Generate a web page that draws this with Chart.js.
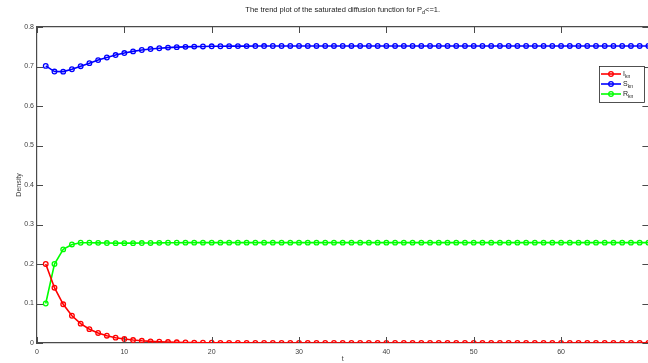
<!DOCTYPE html>
<html>
<head>
<meta charset="utf-8">
<script src="https://cdn.jsdelivr.net/npm/chart.js@4/dist/chart.umd.min.js"></script>
<style>
  html, body { margin: 0; padding: 0; background: #ffffff; overflow: hidden; }
  #wrap { width: 648px; height: 363px; overflow: hidden; position: relative; }
  canvas { display: block; }
</style>
</head>
<body>
<div id="wrap"><canvas id="c" width="652" height="363"></canvas></div>
<script>
// time steps t = 1 .. 70
const tSteps = [
  1, 2, 3, 4, 5, 6, 7, 8, 9, 10, 11, 12, 13, 14, 15, 16, 17, 18, 19, 20,
  21, 22, 23, 24, 25, 26, 27, 28, 29, 30, 31, 32, 33, 34, 35, 36, 37, 38, 39, 40,
  41, 42, 43, 44, 45, 46, 47, 48, 49, 50, 51, 52, 53, 54, 55, 56, 57, 58, 59, 60,
  61, 62, 63, 64, 65, 66, 67, 68, 69, 70
];

// I_kn density
const iKn = [
  0.2000, 0.1400, 0.0980, 0.0690, 0.0490, 0.0350, 0.0255, 0.0185, 0.0135, 0.0100,
  0.0075, 0.0056, 0.0042, 0.0032, 0.0024, 0.0018, 0.0014, 0.0010, 0.0008, 0.0006,
  0.0004, 0.0003, 0.0002, 0.0002, 0.0001, 0.0001, 0.0001, 0.0001, 0.0000, 0.0000,
  0.0000, 0.0000, 0.0000, 0.0000, 0.0000, 0.0000, 0.0000, 0.0000, 0.0000, 0.0000,
  0.0000, 0.0000, 0.0000, 0.0000, 0.0000, 0.0000, 0.0000, 0.0000, 0.0000, 0.0000,
  0.0000, 0.0000, 0.0000, 0.0000, 0.0000, 0.0000, 0.0000, 0.0000, 0.0000, 0.0000,
  0.0000, 0.0000, 0.0000, 0.0000, 0.0000, 0.0000, 0.0000, 0.0000, 0.0000, 0.0000
];

// S_kn density
const sKn = [
  0.7015, 0.6872, 0.6870, 0.6930, 0.7008, 0.7085, 0.7162, 0.7228, 0.7290, 0.7340,
  0.7382, 0.7418, 0.7442, 0.7462, 0.7478, 0.7490, 0.7498, 0.7504, 0.7508, 0.7511,
  0.7513, 0.7515, 0.7516, 0.7517, 0.7518, 0.7518, 0.7519, 0.7519, 0.7520, 0.7520,
  0.7520, 0.7520, 0.7520, 0.7520, 0.7520, 0.7520, 0.7520, 0.7520, 0.7520, 0.7520,
  0.7520, 0.7520, 0.7520, 0.7520, 0.7520, 0.7520, 0.7520, 0.7520, 0.7520, 0.7520,
  0.7520, 0.7520, 0.7520, 0.7520, 0.7520, 0.7520, 0.7520, 0.7520, 0.7520, 0.7520,
  0.7520, 0.7520, 0.7520, 0.7520, 0.7520, 0.7520, 0.7520, 0.7520, 0.7520, 0.7520
];

// R_kn density
const rKn = [
  0.1000, 0.2000, 0.2370, 0.2495, 0.2538, 0.2538, 0.2535, 0.2530, 0.2528, 0.2528,
  0.2528, 0.2530, 0.2533, 0.2536, 0.2538, 0.2539, 0.2540, 0.2540, 0.2540, 0.2540,
  0.2540, 0.2540, 0.2540, 0.2540, 0.2540, 0.2540, 0.2540, 0.2540, 0.2540, 0.2540,
  0.2540, 0.2540, 0.2540, 0.2540, 0.2540, 0.2540, 0.2540, 0.2540, 0.2540, 0.2540,
  0.2540, 0.2540, 0.2540, 0.2540, 0.2540, 0.2540, 0.2540, 0.2540, 0.2540, 0.2540,
  0.2540, 0.2540, 0.2540, 0.2540, 0.2540, 0.2540, 0.2540, 0.2540, 0.2540, 0.2540,
  0.2540, 0.2540, 0.2540, 0.2540, 0.2540, 0.2540, 0.2540, 0.2540, 0.2540, 0.2540
];

// tick positions
const xTickValues = [0, 10, 20, 30, 40, 50, 60];
const yTickValues = [0, 0.1, 0.2, 0.3, 0.4, 0.5, 0.6, 0.7, 0.8];

// legend entries: base text + subscript
const seriesNames = [['I', 'kn'], ['S', 'kn'], ['R', 'kn']];
const seriesColors = ['#ff0000', '#0000ff', '#00ff00'];

const FONT = '"Liberation Sans", Arial, Helvetica, sans-serif';
const AXIS_COLOR = '#4a4a4a';

function toXY(values) {
  return tSteps.map((t, i) => ({ x: t, y: values[i] }));
}

// draws text with an optional subscript, starting at x
function drawSubText(ctx, x, y, base, sub, size, align) {
  ctx.font = size + 'px ' + FONT;
  const wBase = ctx.measureText(base).width;
  ctx.font = (size * 0.72) + 'px ' + FONT;
  const wSub = sub ? ctx.measureText(sub).width : 0;
  let x0 = x;
  if (align === 'center') x0 = x - (wBase + wSub) / 2;
  ctx.textAlign = 'left';
  ctx.textBaseline = 'middle';
  ctx.font = size + 'px ' + FONT;
  ctx.fillText(base, x0, y);
  if (sub) {
    ctx.font = (size * 0.72) + 'px ' + FONT;
    ctx.fillText(sub, x0 + wBase, y + size * 0.35);
  }
}

// inward tick marks, title, axis titles and the boxed legend
const decorations = {
  id: 'decorations',
  afterDraw(chart) {
    const ctx = chart.ctx;
    const a = chart.chartArea;
    const xs = chart.scales.x;
    const ys = chart.scales.y;
    const tl = 6;
    ctx.save();
    ctx.strokeStyle = AXIS_COLOR;
    ctx.lineWidth = 1;
    ctx.beginPath();
    xTickValues.forEach(v => {
      const px = Math.round(xs.getPixelForValue(v)) + 0.5;
      ctx.moveTo(px, a.bottom); ctx.lineTo(px, a.bottom - tl);
      ctx.moveTo(px, a.top); ctx.lineTo(px, a.top + tl);
    });
    yTickValues.forEach(v => {
      const py = Math.round(ys.getPixelForValue(v)) + 0.5;
      ctx.moveTo(a.left, py); ctx.lineTo(a.left + tl, py);
      ctx.moveTo(a.right, py); ctx.lineTo(a.right - tl, py);
    });
    ctx.stroke();

    // title
    ctx.fillStyle = '#1a1a1a';
    ctx.font = '7.5px ' + FONT;
    const t1 = 'The trend plot of the saturated diffusion function for P';
    const t2 = '<=1.';
    const w1 = ctx.measureText(t1).width;
    const w3 = ctx.measureText(t2).width;
    ctx.font = (7.5 * 0.72) + 'px ' + FONT;
    const w2 = ctx.measureText('d').width;
    const cx = (a.left + a.right) / 2;
    let x0 = cx - (w1 + w2 + w3) / 2;
    ctx.textAlign = 'left';
    ctx.textBaseline = 'middle';
    ctx.font = '7.5px ' + FONT;
    ctx.fillText(t1, x0, 10);
    ctx.font = (7.5 * 0.72) + 'px ' + FONT;
    ctx.fillText('d', x0 + w1, 13);
    ctx.font = '7.5px ' + FONT;
    ctx.fillText(t2, x0 + w1 + w2, 10);

    // axis titles
    ctx.fillStyle = '#404040';
    ctx.font = '7px ' + FONT;
    ctx.textAlign = 'center';
    ctx.fillText('t', cx, 359);
    ctx.save();
    ctx.translate(19, (a.top + a.bottom) / 2);
    ctx.rotate(-Math.PI / 2);
    ctx.fillText('Density', 0, 0);
    ctx.restore();

    // legend box
    const bx = 599.5, by = 66.5, bw = 45, bh = 36;
    ctx.fillStyle = '#ffffff';
    ctx.fillRect(bx, by, bw, bh);
    ctx.strokeStyle = '#262626';
    ctx.lineWidth = 0.8;
    ctx.strokeRect(bx, by, bw, bh);
    seriesNames.forEach((nm, i) => {
      const ly = 74 + i * 10;
      ctx.strokeStyle = seriesColors[i];
      ctx.lineWidth = 1.6;
      ctx.beginPath();
      ctx.moveTo(601, ly); ctx.lineTo(621, ly);
      ctx.stroke();
      ctx.lineWidth = 1.3;
      ctx.beginPath();
      ctx.arc(611, ly, 2.3, 0, Math.PI * 2);
      ctx.stroke();
      ctx.fillStyle = '#1a1a1a';
      drawSubText(ctx, 623, ly, nm[0], nm[1], 7, 'left');
    });
    ctx.restore();
  }
};

function seriesDataset(values, color) {
  return {
    data: toXY(values),
    borderColor: color,
    backgroundColor: color,
    borderWidth: 1.6,
    pointRadius: 2.3,
    pointBorderWidth: 1.3,
    pointBorderColor: color,
    pointBackgroundColor: 'rgba(0,0,0,0)',
    pointHoverRadius: 2.3,
    tension: 0
  };
}

new Chart(document.getElementById('c'), {
  type: 'line',
  data: {
    datasets: [
      seriesDataset(iKn, seriesColors[0]),
      seriesDataset(sKn, seriesColors[1]),
      seriesDataset(rKn, seriesColors[2])
    ]
  },
  options: {
    responsive: false,
    animation: false,
    events: [],
    layout: { padding: 0 },
    plugins: { legend: { display: false }, title: { display: false }, tooltip: { enabled: false } },
    scales: {
      x: {
        type: 'linear', position: 'bottom', min: 0, max: 70,
        afterBuildTicks: s => { s.ticks = xTickValues.map(v => ({ value: v })); },
        afterFit: s => { s.height = 20; },
        grid: { display: false, drawTicks: false },
        border: { display: true, color: AXIS_COLOR, width: 1.2 },
        ticks: { color: '#404040', padding: 5, font: { family: FONT, size: 7 }, maxRotation: 0,
                 callback: v => String(v) }
      },
      xTop: {
        type: 'linear', position: 'top', min: 0, max: 70,
        afterFit: s => { s.height = 27; },
        grid: { display: false, drawTicks: false },
        border: { display: true, color: AXIS_COLOR, width: 1.2 },
        ticks: { display: false }
      },
      y: {
        type: 'linear', position: 'left', min: 0, max: 0.8,
        afterBuildTicks: s => { s.ticks = yTickValues.map(v => ({ value: v })); },
        afterFit: s => { s.width = 37; },
        grid: { display: false, drawTicks: false },
        border: { display: true, color: AXIS_COLOR, width: 1.2 },
        ticks: { color: '#404040', padding: 3, font: { family: FONT, size: 7 },
                 callback: v => (v === 0 ? '0' : v.toFixed(1)) }
      },
      yRight: {
        type: 'linear', position: 'right', min: 0, max: 0.8,
        afterFit: s => { s.width = 2; },
        grid: { display: false, drawTicks: false },
        border: { display: true, color: AXIS_COLOR, width: 1.2 },
        ticks: { display: false }
      }
    }
  },
  plugins: [decorations]
});
</script>
</body>
</html>
